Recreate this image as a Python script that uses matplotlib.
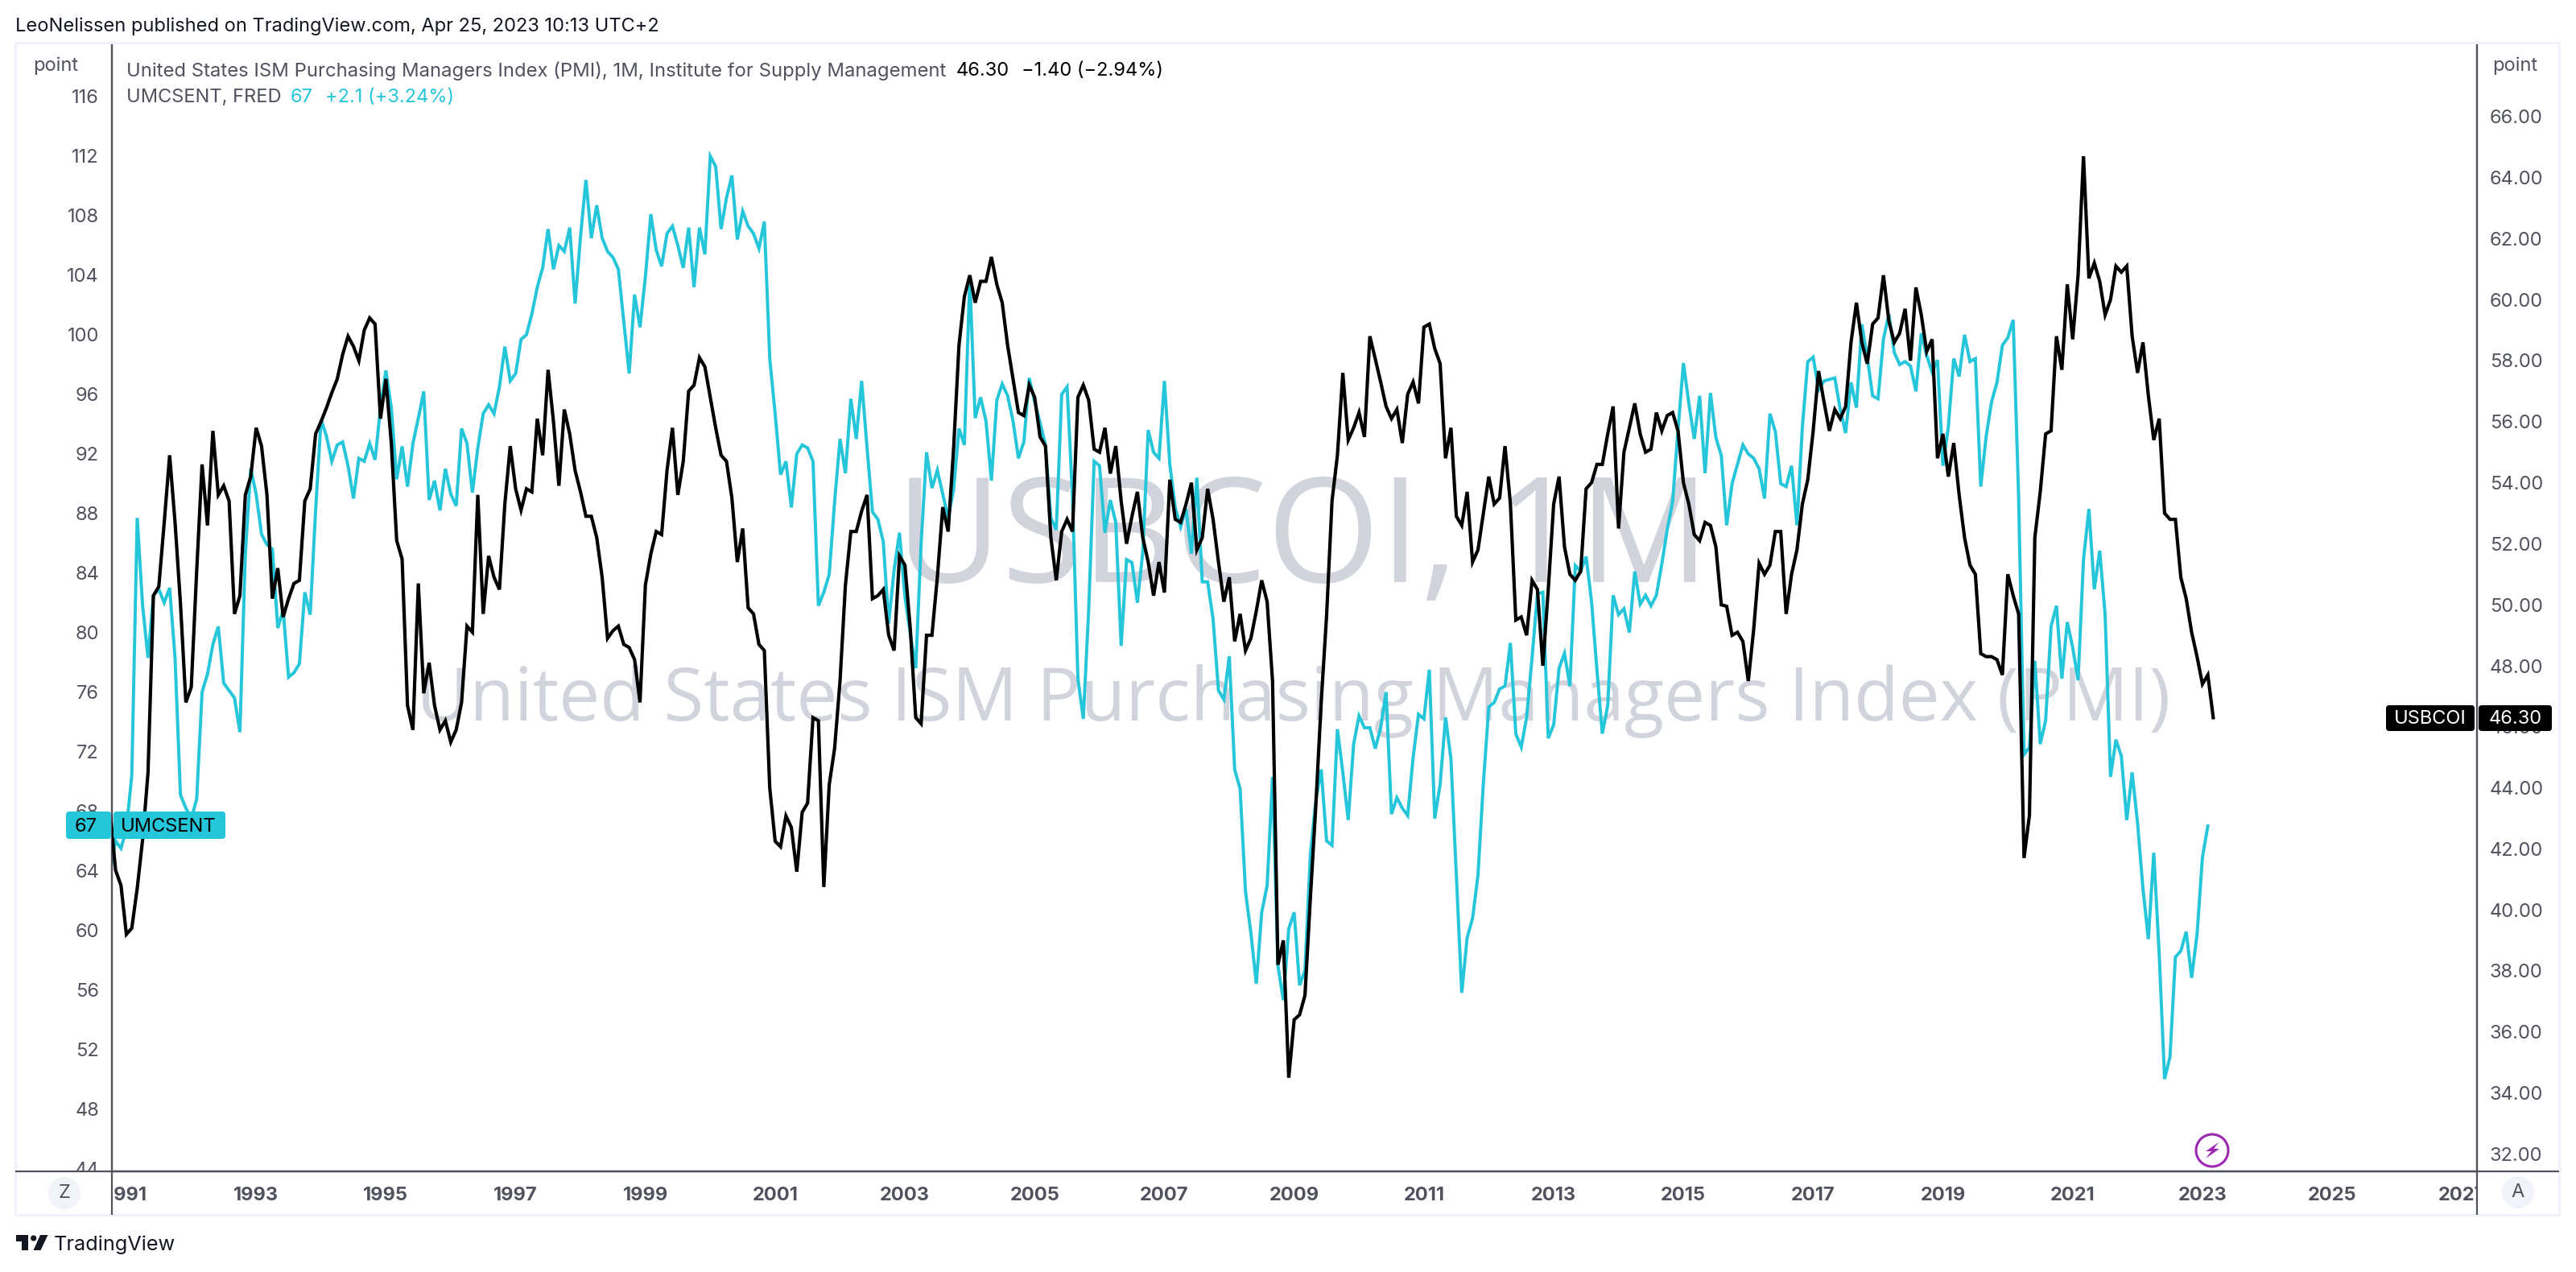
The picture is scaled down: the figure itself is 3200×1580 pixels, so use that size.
import numpy as np
import matplotlib
matplotlib.use("Agg")
import matplotlib.pyplot as plt
from matplotlib.lines import Line2D
from matplotlib.patches import FancyBboxPatch, Polygon, Circle, Rectangle
from matplotlib.transforms import Affine2D, Bbox

# Monthly values, Oct 1990 onward
umcsent = [
 63.9,66.0,65.5,
 66.8,70.4,87.7,81.8,78.3,82.5,82.9,82.0,83.0,78.3,69.1,68.2,
 67.5,68.8,76.0,77.2,79.2,80.4,76.6,76.1,75.6,73.3,85.3,91.0,
 89.3,86.6,85.9,85.6,80.3,81.5,77.0,77.3,77.9,82.7,81.2,88.2,
 94.3,93.2,91.5,92.6,92.8,91.2,89.0,91.7,91.5,92.7,91.6,95.1,
 97.6,95.1,90.3,92.5,89.8,92.7,94.4,96.2,88.9,90.2,88.2,91.0,
 89.3,88.5,93.7,92.7,89.4,92.4,94.7,95.3,94.7,96.5,99.2,96.9,
 97.4,99.7,100.0,101.4,103.2,104.5,107.1,104.4,106.0,105.6,107.2,102.1,
 106.6,110.4,106.5,108.7,106.5,105.6,105.2,104.4,100.9,97.4,102.7,100.5,
 103.9,108.1,105.7,104.6,106.8,107.3,106.0,104.5,107.2,103.2,107.2,105.4,
 112.0,111.3,107.1,109.2,110.7,106.4,108.3,107.3,106.8,105.8,107.6,98.4,
 94.7,90.6,91.5,88.4,92.0,92.6,92.4,91.5,81.8,82.7,83.9,88.8,
 93.0,90.7,95.7,93.0,96.9,92.4,88.1,87.6,86.1,80.6,84.2,86.7,
 82.4,79.9,77.6,86.0,92.1,89.7,90.9,89.3,87.7,89.6,93.7,92.6,
 103.8,94.4,95.8,94.2,90.2,95.6,96.7,95.9,94.2,91.7,92.8,97.1,
 95.5,94.1,92.6,87.7,86.9,96.0,96.5,89.1,76.9,74.2,81.6,91.5,
 91.2,86.7,88.9,87.4,79.1,84.9,84.7,82.0,85.4,93.6,92.1,91.7,
 96.9,91.3,88.4,87.1,88.3,85.3,90.4,83.4,83.4,80.9,76.1,75.5,
 78.4,70.8,69.5,62.6,59.8,56.4,61.2,63.0,70.3,57.6,55.3,60.1,
 61.2,56.3,57.3,65.1,68.7,70.8,66.0,65.7,73.5,70.6,67.4,72.5,
 74.4,73.6,73.6,72.2,73.6,76.0,67.8,68.9,68.2,67.7,71.6,74.5,
 74.2,77.5,67.5,69.8,74.3,71.5,63.7,55.8,59.5,60.8,63.7,69.9,
 75.0,75.3,76.2,76.4,79.3,73.2,72.3,74.3,78.3,82.6,82.7,72.9,
 73.8,77.6,78.6,76.4,84.5,84.1,85.1,82.1,77.5,73.2,75.1,82.5,
 81.2,81.6,80.0,84.1,81.9,82.5,81.8,82.5,84.6,86.9,88.8,93.6,
 98.1,95.4,93.0,95.9,90.7,96.1,93.1,91.9,87.2,90.0,91.3,92.6,
 92.0,91.7,91.0,89.0,94.7,93.5,90.0,89.8,91.2,87.2,93.8,98.2,
 98.5,96.3,96.9,97.0,97.1,95.0,93.4,96.8,95.1,100.7,98.5,95.9,
 95.7,99.7,101.4,98.8,98.0,98.2,97.9,96.2,100.1,98.6,97.5,98.3,
 91.2,93.8,98.4,97.2,100.0,98.2,98.4,89.8,93.2,95.5,96.8,99.3,
 99.8,101.0,89.1,71.8,72.3,78.1,72.5,74.1,80.4,81.8,76.9,80.7,
 79.0,76.8,84.9,88.3,82.9,85.5,81.2,70.3,72.8,71.7,67.4,70.6,
 67.2,62.8,59.4,65.2,58.4,50.0,51.5,58.2,58.6,59.9,56.8,59.7,
 64.9,67.0,
]
usbcoi = [
 43.2,41.3,40.8,
 39.2,39.4,40.7,42.3,44.5,50.3,50.6,52.7,54.9,52.7,50.05,46.8,
 47.3,51.1,54.6,52.6,55.7,53.6,53.9,53.4,49.7,50.3,53.6,54.2,
 55.8,55.2,53.6,50.2,51.2,49.6,50.2,50.7,50.8,53.4,53.8,55.6,
 56.0,56.45,56.95,57.4,58.2,58.8,58.47,58.0,59.0,59.4,59.2,56.1,
 57.4,55.3,52.1,51.5,46.7,45.9,50.7,47.1,48.1,46.7,45.9,46.2,
 45.5,45.9,46.8,49.3,49.1,53.6,49.7,51.6,50.9,50.5,53.3,55.2,
 53.8,53.1,53.8,53.7,56.1,54.9,57.7,56.0,53.9,56.4,55.6,54.4,
 53.7,52.9,52.9,52.2,50.9,48.9,49.15,49.3,48.7,48.6,48.2,46.8,
 50.65,51.66,52.4,52.3,54.4,55.8,53.6,54.7,57.0,57.2,58.1,57.8,
 56.8,55.8,54.9,54.7,53.5,51.4,52.5,49.9,49.7,48.7,48.5,44.0,
 42.25,42.07,43.08,42.7,41.25,43.2,43.5,46.3,46.2,40.75,44.1,45.3,
 47.5,50.65,52.4,52.4,53.07,53.6,50.2,50.3,50.5,49.0,48.5,51.6,
 51.3,49.2,46.3,46.1,49.0,49.0,50.9,53.2,52.4,55.1,58.5,60.1,
 60.8,59.9,60.6,60.6,61.4,60.5,59.9,58.5,57.4,56.3,56.2,57.2,
 56.8,55.5,55.2,52.2,50.8,52.4,52.8,52.4,56.8,57.2,56.7,55.1,
 55.0,55.8,54.3,55.2,53.4,52.0,52.9,53.7,52.2,51.4,50.3,51.4,
 50.4,54.1,52.8,52.7,53.3,54.0,51.8,52.2,53.8,52.8,51.4,50.1,
 50.9,48.8,49.7,48.5,48.9,49.8,50.8,50.1,47.5,38.2,39.0,34.5,
 36.4,36.56,37.2,40.4,43.4,46.8,49.65,53.4,54.9,57.6,55.4,55.8,
 56.3,55.5,58.8,58.06,57.3,56.5,56.1,56.4,55.3,56.9,57.3,56.6,
 59.1,59.2,58.4,57.9,54.8,55.8,52.9,52.6,53.7,51.4,51.8,53.0,
 54.2,53.3,53.5,55.2,53.3,49.5,49.6,49.0,50.8,50.5,48.0,50.5,
 53.3,54.2,51.9,51.0,50.8,51.1,53.8,54.0,54.6,54.6,55.6,56.5,
 52.5,55.0,55.8,56.6,55.6,55.0,55.1,56.3,55.7,56.2,56.3,55.7,
 54.0,53.3,52.3,52.1,52.7,52.6,51.9,50.0,49.95,49.0,49.1,48.8,
 47.5,49.2,51.36,51.0,51.3,52.4,52.4,49.7,51.0,51.8,53.3,54.1,
 55.7,57.66,56.65,55.7,56.4,56.1,56.5,58.6,59.9,58.6,57.9,59.2,
 59.4,60.8,59.3,58.6,58.9,59.7,58.0,60.4,59.5,58.3,58.7,54.8,
 55.6,54.2,55.3,53.6,52.2,51.3,51.0,48.4,48.3,48.3,48.2,47.7,
 51.0,50.3,49.7,41.7,43.1,52.2,53.7,55.6,55.7,58.8,57.7,60.5,
 58.7,60.8,64.7,60.7,61.2,60.6,59.5,60.0,61.1,60.9,61.1,58.8,
 57.6,58.6,56.85,55.4,56.1,53.0,52.8,52.8,50.9,50.2,49.1,48.3,
 47.4,47.7,46.3,
]
left_ticks = list(range(44, 117, 4))
right_ticks = list(range(32, 67, 2))
year_ticks = list(range(1991, 2028, 2))

W, H = 3200, 1580
DPI = 100
INK = "#50535E"
CYAN = "#26C6DA"
WATER = "#D1D4DC"
FRAME = "#F0F3FA"
FONT = "Inter"
FS = 17

plt.rcParams["font.family"] = [FONT, "DejaVu Sans"]

# px: pixel coordinates measured from the top-left of the image
px = Affine2D().scale(1, -1).translate(0, H)
fig = plt.figure(figsize=(W / DPI, H / DPI), dpi=DPI, facecolor="white")

AX_L, AX_R, AX_T, AX_B = 139, 3077, 53, 1455
ax = fig.add_axes([AX_L / W, 1 - AX_B / H, (AX_R - AX_L) / W, (AX_B - AX_T) / H])
ax.set_facecolor("white")
tw = ax.twinx()
tw.patch.set_visible(False)

PX_PER_MONTH = 6.716
X0 = 157  # pixel of Jan 1991
ax.set_xlim((AX_L - X0) / PX_PER_MONTH, (AX_R - X0) / PX_PER_MONTH)
L_SCALE, R_SCALE = 18.49, 37.9
ax.set_ylim(116 - (AX_B - 120) / L_SCALE, 116 + (120 - AX_T) / L_SCALE)
tw.set_ylim(48 - (AX_B - 827) / R_SCALE, 48 + (827 - AX_T) / R_SCALE)

m_c = np.arange(len(umcsent)) - 3
m_b = np.arange(len(usbcoi)) - 3
ax.plot(m_c, umcsent, color=CYAN, lw=2.85, solid_joinstyle="miter", zorder=3)
tw.plot(m_b, usbcoi, color="black", lw=3.0, solid_joinstyle="miter", zorder=4)

ax.set_xticks([(y - 1991) * 12 for y in year_ticks])
ax.set_xticklabels([str(y) for y in year_ticks], fontsize=FS, fontweight="bold", color=INK)
ax.set_yticks(left_ticks)
ax.set_yticklabels([str(v) for v in left_ticks], fontsize=FS, color=INK)
tw.set_yticks(right_ticks)
tw.set_yticklabels([f"{v:.2f}" for v in right_ticks], fontsize=FS, color=INK)
ax.tick_params(axis="x", length=0, pad=14)
ax.tick_params(axis="y", length=0, pad=11.5)
tw.tick_params(axis="y", length=0, pad=11.5)

for a in (ax, tw):
    a.spines["top"].set_visible(False)
    for s in ("left", "right", "bottom"):
        a.spines[s].set_color(INK)
        a.spines[s].set_linewidth(1.6)

# Clip the labels that are cut by the axis lines in the reference
for lab in ax.get_xticklabels():
    lab.set_clip_box(Bbox([[AX_L + 2, 0], [AX_R - 1, H]]))
    lab.set_clip_on(True)
for lab in ax.get_yticklabels() + tw.get_yticklabels():
    lab.set_clip_box(Bbox([[0, H - AX_B], [W, H]]))
    lab.set_clip_on(True)

# Watermarks
ax.text(1618, 723, "USBCOI, 1M", transform=px, fontsize=130, family="Open Sans",
        color=WATER, ha="center", va="baseline", zorder=1, clip_on=False)
ax.text(1607, 895, "United States ISM Purchasing Managers Index (PMI)", transform=px, fontsize=65.4,
        family="Open Sans", color=WATER, ha="center", va="baseline", zorder=1, clip_on=False)


def line(xs, ys, color=INK, lw=1.6, z=5):
    fig.add_artist(Line2D(xs, ys, transform=px, color=color, lw=lw, zorder=z, solid_capstyle="butt"))


def text(x, y, s, color=INK, ha="left", size=FS, weight="normal", z=8):
    fig.add_artist(plt.Text(x, y, s, transform=px, color=color, ha=ha, va="center",
                            fontsize=size, fontweight=weight, zorder=z, family=FONT))


def box(x0, x1, y0, y1, color, r=4):
    fig.add_artist(FancyBboxPatch((x0, y0), x1 - x0, y1 - y0,
                                  boxstyle=f"round,pad=0,rounding_size={r}",
                                  transform=px, fc=color, ec="none", zorder=7))


# Outer frame and scale separators
fig.add_artist(Rectangle((19, 53), 3160, 1456, transform=px, fc="none", ec=FRAME, lw=2.2, zorder=2))
line([AX_L, AX_L], [AX_B, 1509])
line([AX_R, AX_R], [AX_B, 1509])
line([19, 3179], [AX_B, AX_B])

# Header and legends
text(19, 33, "LeoNelissen published on TradingView.com, Apr 25, 2023 10:13 UTC+2", color="#131722", size=FS)
text(41, 82, "point")
text(3124, 82, "point", ha="center")
text(157, 88, "United States ISM Purchasing Managers Index (PMI), 1M, Institute for Supply Management", size=17.15)
text(1188, 88, "46.30", color="black")
text(1269, 88, "\u22121.40 (\u22122.94%)", color="black")
text(157, 121, "UMCSENT, FRED")
text(361, 121, "67", color=CYAN)
text(404, 121, "+2.1 (+3.24%)", color=CYAN)

# Last-value tags
box(82, 138, 1008, 1042, CYAN)
box(141, 280, 1008, 1042, CYAN)
text(107, 1027, "67", color="black", ha="center")
text(150, 1027, "UMCSENT", color="black")
box(2964, 3074, 876, 908, "black")
box(3079, 3170, 876, 908, "black")
text(3019, 893, "USBCOI", color="white", ha="center")
text(3125, 893, "46.30", color="white", ha="center")

# Buttons
for cx, cy, s in ((80, 1482, "Z"), (3128, 1481, "A")):
    fig.add_artist(Circle((cx, cy), 20, transform=px, fc=FRAME, ec="none", zorder=6))
    text(cx, cy, s, ha="center")

# Earnings/dividend bolt marker
fig.add_artist(Circle((2748, 1429), 20, transform=px, fc="white", ec="#9C27B0", lw=2.2, zorder=6))
fig.add_artist(Polygon([(2756, 1419), (2740, 1430), (2747, 1430), (2740, 1439), (2757, 1427), (2750, 1427)],
                       transform=px, fc="#9C27B0", ec="none", zorder=7))

# TradingView logo
LOGO = "#131722"
fig.add_artist(Polygon([(20, 1534), (35, 1534), (35, 1553), (27, 1553), (27, 1542), (20, 1542)],
                       transform=px, fc=LOGO, ec="none", zorder=6))
fig.add_artist(Circle((41.7, 1538), 3.6, transform=px, fc=LOGO, ec="none", zorder=6))
fig.add_artist(Polygon([(50, 1534), (59.5, 1534), (50.5, 1553), (41.5, 1553)],
                       transform=px, fc=LOGO, ec="none", zorder=6))
text(67, 1546, "TradingView", color=LOGO, size=18.2)

fig.savefig("out.png", dpi=DPI, facecolor="white")
